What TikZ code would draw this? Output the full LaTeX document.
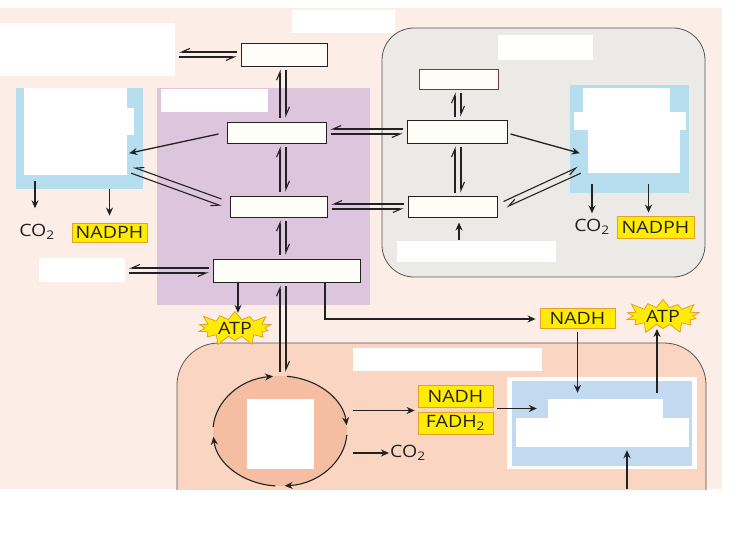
\documentclass[tikz,border=0pt]{standalone}
\usepackage{fontspec}
\newfontfamily\cofont{Open Sans}[FakeStretch=1.15]
\usetikzlibrary{arrows.meta,calc,shapes.geometric,shapes.symbols}

\definecolor{peach}{HTML}{FCEEE7}
\definecolor{lilac}{HTML}{DDC5DD}
\definecolor{stone}{HTML}{ECEAE6}
\definecolor{salmon}{HTML}{FAD6C2}
\definecolor{salmondk}{HTML}{F5BEA2}
\definecolor{sky}{HTML}{B7DEEE}
\definecolor{steel}{HTML}{C2D9EF}
\definecolor{cream}{HTML}{FFFDF7}
\definecolor{lemon}{HTML}{FFEC00}
\definecolor{amber}{HTML}{E3A02C}
\definecolor{ink}{HTML}{222222}
\definecolor{edge}{HTML}{555555}
\definecolor{rust}{HTML}{7A3A3A}

\begin{document}
\begin{tikzpicture}[x=1pt,y=-1pt,
  sz/.style 2 args={minimum width=#1pt,minimum height=#2pt},
  blank/.style={fill=white,inner sep=0pt},
  met/.style={draw=ink,fill=cream,line width=1pt,inner sep=0pt},
  cof/.style={draw=amber,fill=lemon,line width=0.8pt,inner sep=0pt,text=ink,font=\cofont\fontsize{17}{19}\selectfont},
  burst/.style={starburst,starburst points=14,starburst point height=11pt,draw=amber,fill=lemon,line width=0.8pt,inner sep=0pt,text=ink,font=\cofont\fontsize{17}{19}\selectfont},
  txt/.style={inner sep=1pt,text=ink,font=\cofont\fontsize{17}{19}\selectfont},
  arr/.style={draw=ink,line width=1.3pt,-{Stealth[length=8pt,width=7pt]}},
  hh/.style={draw=ink,line width=1.1pt,-{Straight Barb[right,length=8pt,width=7pt]}},
  vh/.style={draw=ink,line width=1.1pt,-{Straight Barb[left,length=8pt,width=7pt]}}]

\useasboundingbox (0,0) rectangle (740,536);
\fill[peach] (0,8) rectangle (722,489);

% compartments
\fill[lilac] (157,88) rectangle (370,305);
\draw[draw=edge,fill=stone,line width=0.8pt,rounded corners=32pt] (382,28) rectangle (705,277);
\begin{scope}
\clip (0,8) rectangle (722,489);
\draw[draw=edge,fill=salmon,line width=0.8pt,rounded corners=42pt] (177,343) rectangle (706,580);
\end{scope}

% label fields
\node[blank,sz={103}{23}] (ttl) at (343.5,21.5) {};
\node[blank,sz={175}{53}] (lft) at (87.5,49.5) {};
\node[blank,sz={107}{23}] (plab) at (214.5,100.5) {};
\node[blank,sz={86}{24}] (dlft) at (82,270) {};
\node[blank,sz={95}{25}] (glab) at (545.5,47.5) {};
\node[blank,sz={159}{21}] (gbot) at (476.5,251.5) {};
\node[blank,sz={189}{23}] (slab) at (447.5,359.5) {};

% side pathways
\node[fill=sky,inner sep=0pt,sz={127}{101}] (lblue) at (79.5,138.5) {};
\node[blank,sz={103}{87}] (lpp) at (75.5,131.5) {};
\fill[white] (126,108) rectangle (134,135);
\node[fill=sky,inner sep=0pt,sz={119}{108}] (rblue) at (629.5,139) {};
\fill[white] (583,88) rectangle (670,112);
\fill[white] (574,112) rectangle (686,130);
\node[blank,sz={92}{43}] (rpp) at (634,151.5) {};

% chain
\node[blank,sz={190}{92}] at (602,423) {};
\node[fill=steel,inner sep=0pt,sz={180}{85}] (ox) at (602,423.5) {};
\fill[white] (548,399) rectangle (663,418);
\fill[white] (516,418) rectangle (689,447);

% cycle
\node[ellipse,fill=salmondk,sz={134}{110},inner sep=0pt] (krebs) at (280,431) {};
\node[blank,sz={67}{70}] (ksq) at (280.5,434) {};
\foreach \a/\b in {-84/-6,4/86,94/174,184/264}
  \draw[arr,line width=1.1pt] ($(krebs.center)+(\a:67 and 55)$) arc[start angle=\a,end angle=\b,x radius=67,y radius=55];

% metabolites
\node[met,sz={86}{23}] (cyA) at (284,54.5) {};
\node[met,sz={99}{21}] (cyB) at (276.5,132.5) {};
\node[met,sz={97}{21}] (cyC) at (278.5,206.5) {};
\node[met,sz={147}{23}] (cyD) at (286.5,270.5) {};
\node[met,draw=rust,sz={79}{20}] (grE) at (458.5,79) {};
\node[met,sz={100}{23}] (grF) at (457,131.5) {};
\node[met,sz={89}{21}] (grG) at (452.5,206.5) {};

% cofactors
\node[txt] (co2l) at (37,232) {CO\textsubscript{2}};
\node[cof,sz={75}{19}] (nadl) at (109.5,232.5) {NADPH};
\node[txt] (co2r) at (592,227) {CO\textsubscript{2}};
\node[cof,sz={77}{22}] (nadr) at (655.5,227) {NADPH};
\node[cof,sz={75}{20}] (nadt) at (577.5,318) {NADH};
\node[cof,sz={75}{22}] (nadm) at (455.5,396) {NADH};
\node[cof,sz={75}{22}] (fad) at (455.5,423) {FADH\textsubscript{2}};
\node[txt,anchor=west] (co2b) at (389,453) {CO\textsubscript{2}};
\node[burst,sz={82}{31}] (atpl) at (235,328) {ATP};
\node[burst,sz={82}{29}] (atpr) at (663,316) {ATP};

% reversible steps
\coordinate (ax) at (283,0);
\coordinate (bx) at (458,0);
\foreach \u/\l in {cyA/cyB,cyB/cyC,cyC/cyD,cyD/krebs}{
  \draw[vh] ($(ax |- \l.north)+(-3,-4)$) -- ($(ax |- \u.south)+(-3,3)$);
  \draw[vh] ($(ax |- \u.south)+(3,3)$) -- ($(ax |- \l.north)+(3,-4)$);
}
\foreach \u/\l in {grE/grF,grF/grG}{
  \draw[vh] ($(bx |- \l.north)+(-3,-3)$) -- ($(bx |- \u.south)+(-3,3)$);
  \draw[vh] ($(bx |- \u.south)+(3,3)$) -- ($(bx |- \l.north)+(3,-3)$);
}
\foreach \l/\r in {lft/cyA,dlft/cyD,cyB/grF,cyC/grG}{
  \draw[hh] ($(\r.west)+(-4,-2.5)$) -- ($(\l.east |- \r.west)+(4,-2.5)$);
  \draw[hh] ($(\l.east |- \r.west)+(4,2.5)$) -- ($(\r.west)+(-4,2.5)$);
}
\draw[hh] ($(cyC.west)+(-8,-7.5)$) -- ($(lpp.south east)+(6,-8)$);
\draw[hh] ($(lpp.south east)+(4,-2)$) -- ($(cyC.west)+(-8,-0.5)$);
\draw[hh] ($(grG.east)+(6,-5)$) -- ($(rpp.south west)+(-10,-6)$);
\draw[hh] ($(rpp.south west)+(-7,0)$) -- ($(grG.east)+(9,0.5)$);

% one-way steps
\draw[arr] ($(cyB.west)+(-8,1.5)$) -- ($(lpp.south east)+(2,-22)$);
\draw[arr] ($(grF.east)+(3,2.5)$) -- ($(rpp.south west)+(-8,-20)$);
\draw[arr] (co2l.north -| 35,0) ++(0,-42) -- ($(co2l.north -| 35,0)+(0,-15)$);
\draw[arr] (nadl.north |- lblue.south) -- ($(nadl.north)+(0,-7)$);
\draw[arr] ($(co2r.north |- rblue.south)+(0,-9)$) -- ($(co2r.north)+(0,-5)$);
\draw[arr] ($(nadr.north |- rblue.south)+(-7,-9)$) -- ($(nadr.north)+(-7,-3)$);
\draw[arr] ($(gbot.north -| grG.south)+(6.5,-1)$) -- ($(grG.south)+(6.5,5)$);
\draw[arr] (atpl.north |- cyD.south) ++(3,0) -- ($(atpl.north)+(3,2)$);
\draw[arr] ($(cyD.south)+(38.5,0)$) |- ($(nadt.west)+(-4,1)$);
\draw[arr] ($(nadt.south)+(0,4)$) -- ($(nadt.south |- ox.north)+(0,12)$);
\draw[arr] ($(atpr.south |- ox.north)+(-6,12)$) -- ($(atpr.south)+(-6,0)$);
\coordinate (pair) at ($(nadm.south west)!0.5!(fad.north west)$);
\draw[arr] ($(krebs.east |- pair)+(6,1)$) -- ($(pair)+(-3,1)$);
\draw[arr] ($(pair -| nadm.east)+(4,-1)$) -- ($(pair -| ox.west)+(25,-1)$);
\draw[arr] ($(krebs.east |- co2b.west)+(6,0)$) -- (co2b.west);
\coordinate (feed) at (627,489);
\draw[arr] (feed) -- ($(feed |- ox.south)+(0,-16)$);

\end{tikzpicture}
\end{document}
